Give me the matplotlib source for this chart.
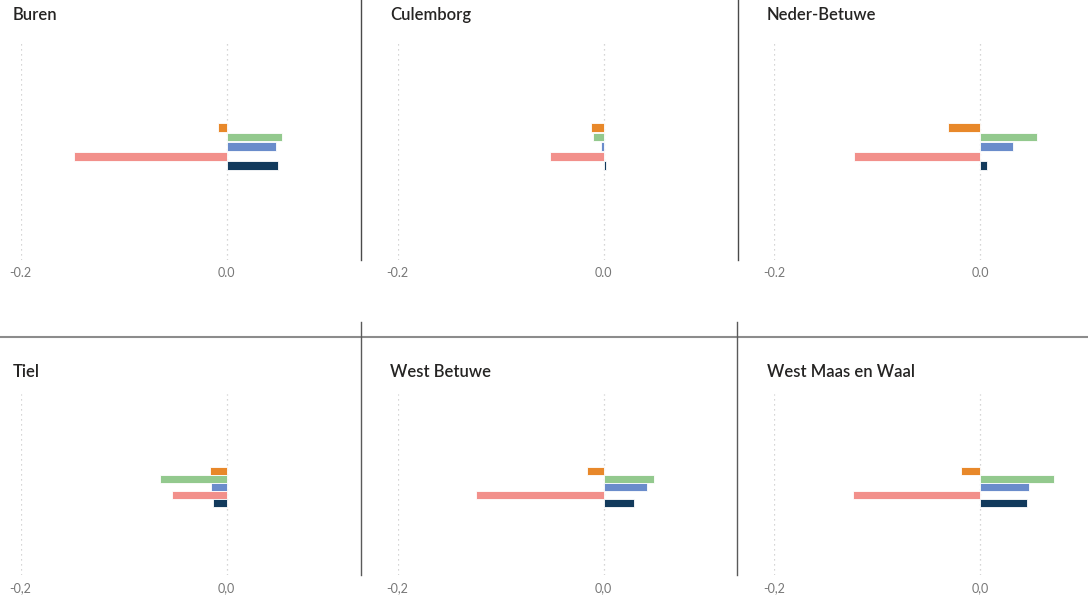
import matplotlib.pyplot as plt
from matplotlib.lines import Line2D

# gemeenten, row by row
gemeenten = ['Buren', 'Culemborg', 'Neder-Betuwe', 'Tiel', 'West Betuwe', 'West Maas en Waal']

# five series per gemeente (top to bottom in each panel)
oranje = [-0.008, -0.012, -0.031, -0.016, -0.016, -0.018]
groen = [0.054, -0.010, 0.055, -0.065, 0.049, 0.072]
blauw = [0.048, -0.002, 0.032, -0.015, 0.042, 0.048]
roze = [-0.148, -0.052, -0.122, -0.053, -0.124, -0.123]
donkerblauw = [0.050, 0.002, 0.007, -0.013, 0.030, 0.046]

tick_values = [-0.2, 0.0]
tick_labels_top = ['-0.2', '0.0']
tick_labels_bottom = ['-0,2', '0,0']

colors = ['#E8882A', '#93C98E', '#6A8CCB', '#F2908B', '#123A5C']

W, H = 1088, 598
fig = plt.figure(figsize=(W / 100, H / 100), dpi=100)
plt.rcParams['font.family'] = ['Lato', 'DejaVu Sans']

px_per_unit = 1030.0
col_left = [20.5, 397.5, 774.0]      # pixel of -0.2
ax_width = 310
rows = [
    dict(top=40, bottom=260, ylim=(13.8, -9.1), title_y=15, labels=tick_labels_top),
    dict(top=394, bottom=575, ylim=(13.0, -9.6), title_y=372, labels=tick_labels_bottom),
]

for i, name in enumerate(gemeenten):
    r, c = divmod(i, 3)
    row = rows[r]
    left = col_left[c]
    ax = fig.add_axes([left / W, 1 - row['bottom'] / H, ax_width / W,
                       (row['bottom'] - row['top']) / H])
    vals = [oranje[i], groen[i], blauw[i], roze[i], donkerblauw[i]]
    ax.barh(range(5), vals, height=0.93, color=colors, edgecolor='white', linewidth=0.6, zorder=3)
    ax.set_xlim(-0.2, -0.2 + ax_width / px_per_unit)
    ax.set_ylim(*row['ylim'])
    ax.set_xticks(tick_values)
    ax.set_xticklabels(row['labels'])
    ax.set_yticks([])
    ax.tick_params(axis='x', length=0, pad=5, labelsize=9, labelcolor='#777777')
    ax.grid(axis='x', linestyle=(0, (1, 3)), color='#c8c8c8', linewidth=0.9, zorder=0)
    for s in ax.spines.values():
        s.set_visible(False)
    ax.patch.set_alpha(0)
    fig.text([13, 390, 767][c] / W, 1 - row['title_y'] / H, name, fontsize=12,
             color='#252423', ha='left', va='center', fontweight='semibold')

# panel separators
def sep(x0, y0, x1, y1, color, lw):
    fig.add_artist(Line2D([x0 / W, x1 / W], [1 - y0 / H, 1 - y1 / H],
                          transform=fig.transFigure, color=color, linewidth=lw))

sep(361, 0, 361, 260, '#4a4a4a', 1.0)
sep(738, 0, 738, 260, '#4a4a4a', 1.0)
sep(0, 336.5, W, 336.5, '#8c8c8c', 1.5)
sep(361, 322, 361, 575, '#5a5a5a', 1.0)
sep(737, 322, 737, 575, '#5a5a5a', 1.0)

fig.savefig('out.png', dpi=100, facecolor='white')
